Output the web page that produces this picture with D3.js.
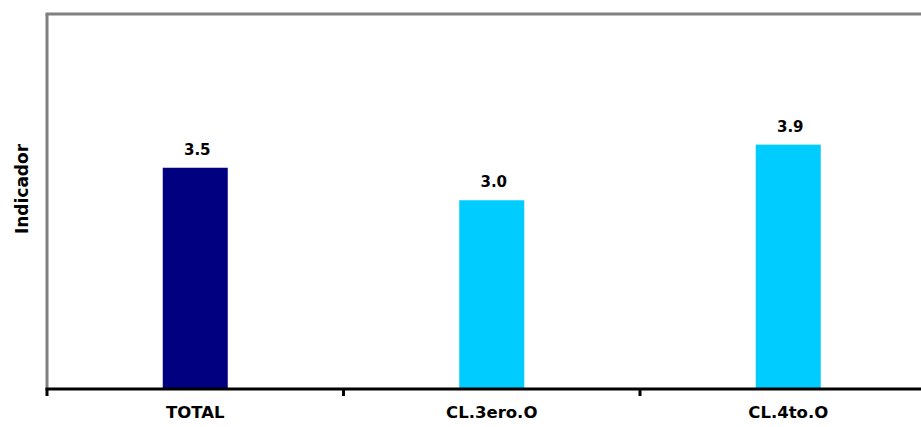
<!DOCTYPE html>
<html>
<head>
<meta charset="utf-8">
<script src="https://cdn.jsdelivr.net/npm/d3@7"></script>
<style>
  html, body { margin: 0; padding: 0; background: #fff; }
  svg { display: block; }
</style>
</head>
<body>
<svg id="chart" width="921" height="427"></svg>
<script>
const categories = ["TOTAL", "CL.3ero.O", "CL.4to.O"];
const values = [3.54, 3.02, 3.91];
const barColors = ["#000080", "#00CCFF", "#00CCFF"];
const yTitle = "Indicador";

(function () {
const svg = d3.select("#chart");
const W = 921, H = 427;
const mLeft = 47, mTop = 14, base = 389;
const bandW = 296.5;

const x = d3.scaleBand().domain(categories).range([mLeft, mLeft + bandW * categories.length]).padding(0);
const y = d3.scaleLinear().domain([0, 6]).range([base, mTop]);
const barW = 65;

const font = "'DejaVu Sans', Verdana, sans-serif";

// frame: gray top and left lines
svg.append("line").attr("x1", mLeft - 1.5).attr("x2", W).attr("y1", mTop).attr("y2", mTop)
  .attr("stroke", "#808080").attr("stroke-width", 3);
svg.append("line").attr("x1", mLeft).attr("x2", mLeft).attr("y1", mTop).attr("y2", base)
  .attr("stroke", "#808080").attr("stroke-width", 3);

// bars
svg.append("g").selectAll("rect").data(categories).join("rect")
  .attr("x", d => x(d) + x.bandwidth() / 2 - barW / 2)
  .attr("width", barW)
  .attr("y", (d, i) => y(values[i]))
  .attr("height", (d, i) => y(0) - y(values[i]))
  .attr("fill", (d, i) => barColors[i]);

// value labels
svg.append("g").selectAll("text").data(categories).join("text")
  .attr("x", d => x(d) + x.bandwidth() / 2 + 2)
  .attr("y", (d, i) => y(values[i]) - 13)
  .attr("text-anchor", "middle")
  .attr("font-family", font).attr("font-weight", "bold").attr("font-size", 15)
  .attr("fill", "#000")
  .text((d, i) => d3.format(".1f")(values[i]));

// x axis
const xAxis = d3.axisBottom(x).tickSize(0).tickPadding(17);
const gx = svg.append("g").attr("transform", `translate(0,${base})`).call(xAxis);
gx.select(".domain").remove();
gx.selectAll("text").attr("font-family", font).attr("font-weight", "bold")
  .attr("font-size", 16.5).attr("fill", "#000");

svg.append("line").attr("x1", mLeft - 1.5).attr("x2", W).attr("y1", base).attr("y2", base)
  .attr("stroke", "#000").attr("stroke-width", 3);
// boundary ticks
svg.append("g").selectAll("line").data(categories).join("line")
  .attr("x1", d => x(d)).attr("x2", d => x(d))
  .attr("y1", base).attr("y2", base + 7)
  .attr("stroke", "#000").attr("stroke-width", 3);

// y title
svg.append("text")
  .attr("transform", `translate(28,189) rotate(-90)`)
  .attr("text-anchor", "middle")
  .attr("font-family", font).attr("font-weight", "bold").attr("font-size", 17)
  .attr("fill", "#000")
  .text(yTitle);
})();
</script>
</body>
</html>
